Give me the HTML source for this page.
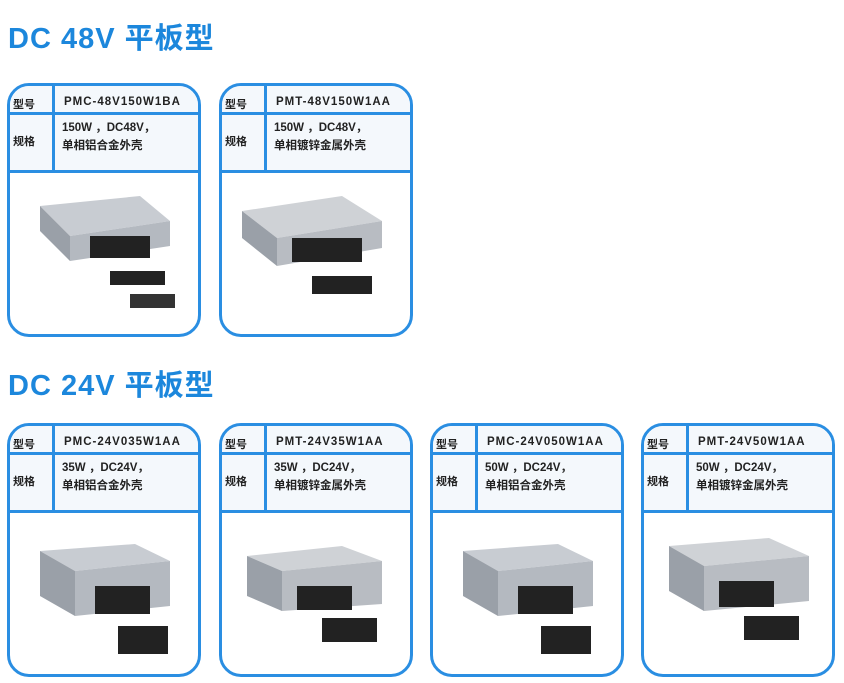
<!DOCTYPE html>
<html><head><meta charset="utf-8"><style>
body{margin:0;width:844px;height:683px;background:#fff;position:relative;overflow:hidden;font-family:"Liberation Sans","Noto Sans CJK SC",sans-serif}
.t{position:absolute;left:8px;font-size:29px;font-weight:bold;color:#1c87dc;letter-spacing:1px;line-height:32px}
.c{position:absolute;width:188px;height:248px;border:3px solid #2a8ee2;border-radius:22px;overflow:hidden;background:#fff}
.h1{position:absolute;left:0;top:0;width:100%;height:26px;border-bottom:3px solid #2a8ee2;background:#f4f8fc}
.h2{position:absolute;left:0;top:29px;width:100%;height:55px;border-bottom:3px solid #2a8ee2;background:#f4f8fc}
.v{position:absolute;left:42px;top:0;width:3px;height:87px;background:#2a8ee2}
.l{position:absolute;left:3px;font-size:11px;font-weight:bold;color:#222}
.m{position:absolute;left:54px;top:10px;font-size:11.5px;font-weight:bold;color:#222;letter-spacing:1px}
.s{position:absolute;left:52px;top:33px;font-size:11.5px;font-weight:bold;color:#222;line-height:18px}
svg{position:absolute;left:0;top:90px}
</style></head><body>
<div class="t" style="top:23px">DC 48V 平板型</div>
<div class="t" style="top:370px">DC 24V 平板型</div>

<div class="c" style="left:7px;top:83px"><div class="h1"></div><div class="h2"></div><div class="v"></div>
<div class="l" style="top:10px">型号</div><div class="l" style="top:47px">规格</div>
<div class="m">PMC-48V150W1BA</div><div class="s">150W ，DC48V，<br>单相铝合金外壳</div>
<svg width="188" height="160"><polygon points="30,30 130,20 160,45 60,60" fill="#c8ccd2"/><polygon points="30,30 60,60 60,85 30,55" fill="#9aa0a8"/><polygon points="60,60 160,45 160,70 60,85" fill="#b4b9c0"/><rect x="80" y="60" width="60" height="22" fill="#222"/><rect x="100" y="95" width="55" height="14" fill="#222"/><rect x="120" y="118" width="45" height="14" fill="#333"/></svg></div>

<div class="c" style="left:219px;top:83px"><div class="h1"></div><div class="h2"></div><div class="v"></div>
<div class="l" style="top:10px">型号</div><div class="l" style="top:47px">规格</div>
<div class="m">PMT-48V150W1AA</div><div class="s">150W ，DC48V，<br>单相镀锌金属外壳</div>
<svg width="188" height="160"><polygon points="20,35 120,20 160,45 55,62" fill="#cfd2d6"/><polygon points="20,35 55,62 55,90 20,62" fill="#9aa0a8"/><polygon points="55,62 160,45 160,72 55,90" fill="#b8bcc2"/><rect x="70" y="62" width="70" height="24" fill="#222"/><rect x="90" y="100" width="60" height="18" fill="#222"/></svg></div>

<div class="c" style="left:7px;top:423px"><div class="h1"></div><div class="h2"></div><div class="v"></div>
<div class="l" style="top:10px">型号</div><div class="l" style="top:47px">规格</div>
<div class="m">PMC-24V035W1AA</div><div class="s">35W ，DC24V，<br>单相铝合金外壳</div>
<svg width="188" height="160"><polygon points="30,35 125,28 160,45 65,55" fill="#c8ccd2"/><polygon points="30,35 65,55 65,100 30,80" fill="#9aa0a8"/><polygon points="65,55 160,45 160,90 65,100" fill="#b4b9c0"/><rect x="85" y="70" width="55" height="28" fill="#222"/><rect x="108" y="110" width="50" height="28" fill="#222"/></svg></div>

<div class="c" style="left:219px;top:423px"><div class="h1"></div><div class="h2"></div><div class="v"></div>
<div class="l" style="top:10px">型号</div><div class="l" style="top:47px">规格</div>
<div class="m">PMT-24V35W1AA</div><div class="s">35W ，DC24V，<br>单相镀锌金属外壳</div>
<svg width="188" height="160"><polygon points="25,40 120,30 160,45 60,55" fill="#cfd2d6"/><polygon points="25,40 60,55 60,95 25,80" fill="#9aa0a8"/><polygon points="60,55 160,45 160,88 60,95" fill="#b8bcc2"/><rect x="75" y="70" width="55" height="24" fill="#222"/><rect x="100" y="102" width="55" height="24" fill="#222"/></svg></div>

<div class="c" style="left:430px;top:423px"><div class="h1"></div><div class="h2"></div><div class="v"></div>
<div class="l" style="top:10px">型号</div><div class="l" style="top:47px">规格</div>
<div class="m">PMC-24V050W1AA</div><div class="s">50W ，DC24V，<br>单相铝合金外壳</div>
<svg width="188" height="160"><polygon points="30,35 125,28 160,45 65,55" fill="#c8ccd2"/><polygon points="30,35 65,55 65,100 30,80" fill="#9aa0a8"/><polygon points="65,55 160,45 160,90 65,100" fill="#b4b9c0"/><rect x="85" y="70" width="55" height="28" fill="#222"/><rect x="108" y="110" width="50" height="28" fill="#222"/></svg></div>

<div class="c" style="left:641px;top:423px"><div class="h1"></div><div class="h2"></div><div class="v"></div>
<div class="l" style="top:10px">型号</div><div class="l" style="top:47px">规格</div>
<div class="m">PMT-24V50W1AA</div><div class="s">50W ，DC24V，<br>单相镀锌金属外壳</div>
<svg width="188" height="160"><polygon points="25,30 125,22 165,40 60,50" fill="#cfd2d6"/><polygon points="25,30 60,50 60,95 25,75" fill="#9aa0a8"/><polygon points="60,50 165,40 165,85 60,95" fill="#b8bcc2"/><rect x="75" y="65" width="55" height="26" fill="#222"/><rect x="100" y="100" width="55" height="24" fill="#222"/></svg></div>
</body></html>
